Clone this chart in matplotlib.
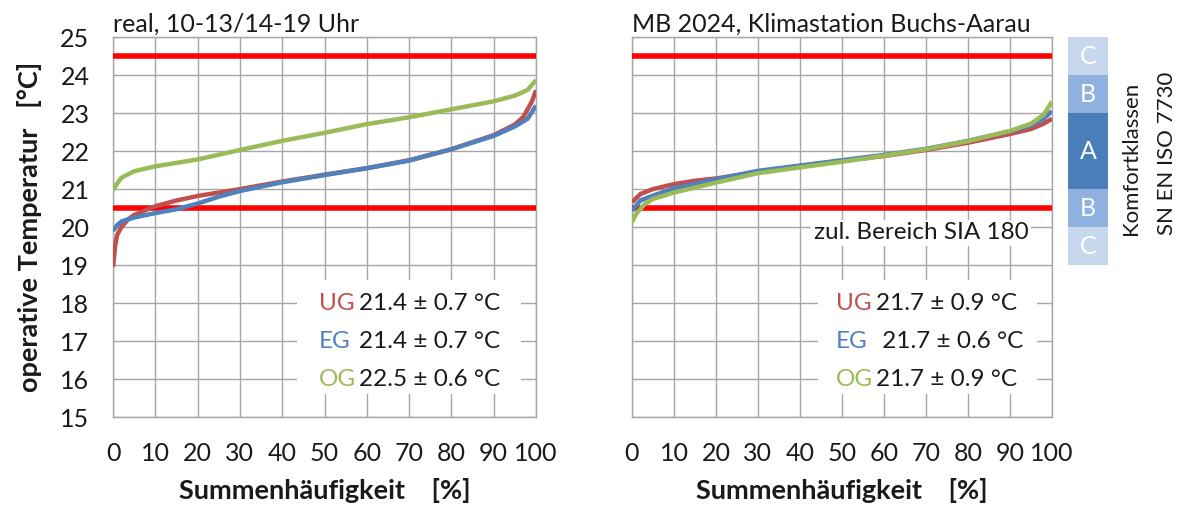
import numpy as np
import matplotlib.pyplot as plt
from matplotlib.patches import Rectangle

plt.rcParams['font.family'] = ['Lato', 'DejaVu Sans']

# Summenhäufigkeit [%] / operative Temperatur [°C]
# left panel: real, 10-13/14-19 Uhr
real_ug_x = [0, 0.5, 1, 2, 3.5, 5, 10, 15, 20, 30, 40, 50, 60, 70, 80, 90, 95, 97, 99, 100]
real_ug_t = [18.95, 19.5, 19.8, 20.0, 20.2, 20.32, 20.55, 20.7, 20.82, 21.0, 21.2, 21.38,
             21.55, 21.76, 22.05, 22.42, 22.7, 22.9, 23.3, 23.6]
real_eg_x = [0, 1, 2, 5, 10, 15, 20, 25, 30, 40, 50, 60, 70, 80, 90, 95, 98, 100]
real_eg_t = [19.9, 20.05, 20.15, 20.25, 20.37, 20.47, 20.62, 20.8, 20.95, 21.18, 21.37,
             21.55, 21.75, 22.05, 22.4, 22.65, 22.85, 23.2]
real_og_x = [0, 1, 2, 5, 10, 20, 30, 40, 50, 60, 70, 80, 90, 95, 98, 100]
real_og_t = [20.97, 21.15, 21.3, 21.47, 21.6, 21.78, 22.03, 22.27, 22.48, 22.71, 22.89,
             23.1, 23.31, 23.46, 23.61, 23.87]

# right panel: MB 2024, Klimastation Buchs-Aarau
mb_ug_x = [0, 2, 5, 10, 15, 20, 30, 40, 50, 60, 70, 80, 90, 95, 98, 100]
mb_ug_t = [20.65, 20.87, 21.0, 21.13, 21.22, 21.28, 21.45, 21.61, 21.74, 21.87, 22.03,
           22.22, 22.45, 22.58, 22.72, 22.85]
mb_eg_x = [0, 2, 5, 10, 20, 30, 40, 50, 60, 70, 80, 90, 95, 98, 100]
mb_eg_t = [20.43, 20.7, 20.83, 21.02, 21.26, 21.48, 21.62, 21.76, 21.9, 22.06, 22.27,
           22.52, 22.68, 22.85, 23.05]
mb_og_x = [0, 1, 3, 5, 10, 20, 30, 40, 50, 60, 70, 80, 90, 95, 98, 100]
mb_og_t = [20.13, 20.35, 20.6, 20.74, 20.91, 21.17, 21.42, 21.57, 21.72, 21.88, 22.05,
           22.26, 22.53, 22.72, 22.95, 23.3]

# zul. Bereich SIA 180
sia_low = 20.5
sia_high = 24.5

stats_real = [('UG', '21.4 ± 0.7 °C'), ('EG', '21.4 ± 0.7 °C'), ('OG', '22.5 ± 0.6 °C')]
stats_mb = [('UG', '21.7 ± 0.9 °C'), ('EG', ' 21.7 ± 0.6 °C'), ('OG', '21.7 ± 0.9 °C')]
stats_rows = [18, 17, 16]

# Komfortklassen SN EN ISO 7730
klassen = ['C', 'B', 'A', 'B', 'C']
klassen_unten = [19, 20, 21, 23, 24]
klassen_hoehe = [1, 1, 2, 1, 1]
klassen_farbe = {'A': '#4a7ebb', 'B': '#8fb1e0', 'C': '#c6d7ee'}

col = {'UG': '#c0504d', 'EG': '#4f81bd', 'OG': '#9bbb59'}
grid_col = '#a6a6a6'
txt_col = '#1a1a1a'
fs_tick = 18
fs = 17.5
fs_bold = 19.5

fig = plt.figure(figsize=(11.87, 5.15), dpi=100)
ax1 = fig.add_axes([0.0952, 0.190, 0.3564, 0.738])
ax2 = fig.add_axes([0.5324, 0.190, 0.3538, 0.738])
axk = fig.add_axes([0.8997, 0.190, 0.0337, 0.738])


def style(ax, ylabels=True):
    ax.set_xlim(0, 100)
    ax.set_ylim(15, 25)
    ax.set_xticks(np.arange(0, 101, 10))
    ax.set_yticks(np.arange(15, 26, 1))
    ax.grid(True, color=grid_col, lw=1.0)
    ax.set_axisbelow(True)
    for s in ax.spines.values():
        s.set_color(grid_col)
        s.set_linewidth(1.0)
    ax.tick_params(length=0, labelsize=fs_tick, colors=txt_col)
    ax.tick_params(axis='x', pad=18)
    ax.tick_params(axis='y', pad=17)
    if not ylabels:
        ax.set_yticklabels([])
    ax.set_xlabel('Summenhäufigkeit    [%]', fontsize=fs_bold, fontweight='bold',
                  color=txt_col, labelpad=9)


def panel(ax, series, stats, box_x0):
    ax.axhline(sia_high, color='#ff0000', lw=4, zorder=3)
    ax.axhline(sia_low, color='#ff0000', lw=4, zorder=3)
    for name, x, t in series:
        ax.plot(x, t, color=col[name], lw=3.2, zorder=4, solid_capstyle='butt')
    ax.add_patch(Rectangle((box_x0, 15.6), 96.5 - box_x0, 3.0, facecolor='white',
                           edgecolor='none', zorder=2))
    for (name, val), y in zip(stats, stats_rows):
        ax.text(48.6, y, name, color=col[name], fontsize=fs, va='center', ha='left', zorder=5)
        ax.text(58.2, y, val, color=txt_col, fontsize=fs, va='center', ha='left', zorder=5)


style(ax1)
style(ax2, ylabels=False)
ax1.set_ylabel('operative Temperatur   [°C]', fontsize=fs_bold, fontweight='bold',
               color=txt_col, labelpad=13)

panel(ax1, [('UG', real_ug_x, real_ug_t), ('EG', real_eg_x, real_eg_t),
            ('OG', real_og_x, real_og_t)], stats_real, 43.5)
panel(ax2, [('UG', mb_ug_x, mb_ug_t), ('EG', mb_eg_x, mb_eg_t),
            ('OG', mb_og_x, mb_og_t)], stats_mb, 44.3)

ax1.set_title('real, 10-13/14-19 Uhr', loc='left', fontsize=18, color=txt_col, pad=4)
ax2.set_title('MB 2024, Klimastation Buchs-Aarau', loc='left', fontsize=18,
              color=txt_col, pad=4)

ax2.text(68.8, 19.85, 'zul. Bereich SIA 180', fontsize=fs, color=txt_col, ha='center',
         va='center', zorder=5,
         bbox=dict(facecolor='white', edgecolor='none', pad=2))

# comfort class bar
axk.bar([0] * len(klassen), klassen_hoehe, bottom=klassen_unten, width=1,
        color=[klassen_farbe[k] for k in klassen], edgecolor='none')
for k, b, h in zip(klassen, klassen_unten, klassen_hoehe):
    axk.text(0, b + h / 2, k, color='white', fontsize=18, ha='center', va='center')
axk.set_xlim(-0.5, 0.5)
axk.set_ylim(15, 25)
axk.axis('off')

fig.text(0.953, 0.544, 'Komfortklassen', rotation=90, fontsize=16, color=txt_col,
         ha='center', va='bottom')
fig.text(0.983, 0.544, 'SN EN ISO 7730', rotation=90, fontsize=16, color=txt_col,
         ha='center', va='bottom')

fig.savefig('out.png', dpi=100)
